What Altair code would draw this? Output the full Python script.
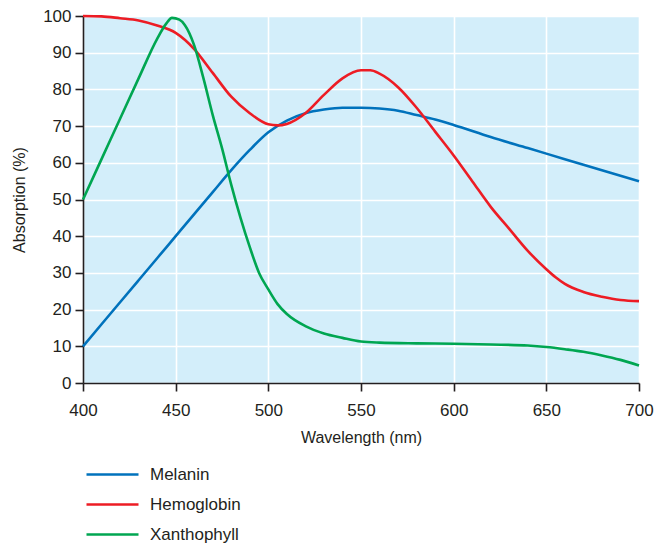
import altair as alt
import pandas as pd

# Wavelength (nm) / absorption (%)
mel_x = [400, 410, 420, 430, 440, 450, 460, 470, 480, 490, 500, 510, 520, 530, 540, 550,
         560, 570, 580, 590, 600, 620, 640, 660, 680, 700]
mel_y = [10, 16, 22, 28, 34, 40, 46, 52, 58, 63.5, 68.3, 71.5, 73.5, 74.5, 75, 75,
         74.8, 74.2, 73, 71.8, 70.3, 67, 64, 61, 58, 55]

hem_x = [400, 410, 420, 430, 440, 450, 460, 470, 480, 490, 500, 505, 510, 520, 530, 540,
         550, 555, 560, 570, 580, 590, 600, 610, 620, 630, 640, 650, 655, 660, 670, 680, 690, 700]
hem_y = [100, 99.9, 99.4, 98.8, 97.4, 95.4, 91, 84.5, 78, 73.5, 70.5, 70.2, 70.6, 73.5, 78.5, 83,
         85.2, 85.2, 84.3, 80.6, 75, 68.5, 62, 55, 48, 42, 36, 31, 28.8, 27, 24.8, 23.5, 22.6, 22.3]

xan_x = [400, 410, 420, 430, 440, 445, 448, 452, 455, 460, 465, 470, 475, 480, 485, 490,
         495, 500, 505, 510, 520, 530, 540, 550, 560, 580, 600, 620, 640, 650, 660, 670,
         680, 690, 700]
xan_y = [50, 61, 72, 83, 93.8, 98, 99.5, 99, 97.5, 92, 83, 73, 64, 54, 45, 37,
         30, 25.5, 21.5, 18.8, 15.5, 13.5, 12.3, 11.3, 11, 10.8, 10.7, 10.5, 10.2, 9.8, 9.2, 8.5,
         7.5, 6.3, 4.8]

series = ["Melanin", "Hemoglobin", "Xanthophyll"]
colors = ["#0072bc", "#ed1c24", "#00a651"]
x_ticks = [400, 450, 500, 550, 600, 650, 700]
y_ticks = [0, 10, 20, 30, 40, 50, 60, 70, 80, 90, 100]

rows = []
for name, xs, ys in [(series[0], mel_x, mel_y), (series[1], hem_x, hem_y), (series[2], xan_x, xan_y)]:
    for i, (a, b) in enumerate(zip(xs, ys)):
        rows.append({"series": name, "wl": a, "abs": b, "order": i})
df = pd.DataFrame(rows)

ink = "#231f20"
font = "Liberation Sans"

chart = alt.Chart(df).mark_line(strokeWidth=2.6, interpolate="monotone").encode(
    x=alt.X("wl:Q", scale=alt.Scale(domain=[400, 700], nice=False),
            axis=alt.Axis(values=x_ticks, title="Wavelength (nm)", titlePadding=11,
                          labelPadding=11, labelFlush=False)),
    y=alt.Y("abs:Q", scale=alt.Scale(domain=[0, 100], nice=False),
            axis=alt.Axis(values=y_ticks, title="Absorption (%)", titlePadding=15, labelPadding=4)),
    color=alt.Color("series:N", sort=series,
                    scale=alt.Scale(domain=series, range=colors),
                    legend=alt.Legend(title=None, orient="none", legendX=4, legendY=450,
                                      symbolType="M-26,0H26", symbolSize=4,
                                      symbolStrokeWidth=2.6, labelOffset=29,
                                      labelFontSize=17, labelColor=ink, rowPadding=12,
                                      padding=0, symbolOffset=17)),
    detail="series:N",
    order="order:Q",
).properties(
    width=556, height=367,
    autosize=alt.AutoSizeParams(type="none"),
    padding={"left": 75, "top": 8, "right": 15, "bottom": 160},
).configure_view(
    fill="#d3eefa", stroke=None
).configure_axis(
    domainColor=ink, domainWidth=1.6, tickColor=ink, tickWidth=1.6, tickSize=8,
    labelFont=font, labelFontSize=17, labelColor=ink,
    titleFont=font, titleFontSize=16, titleFontWeight="normal", titleColor=ink,
    gridColor="white", gridWidth=1.6, gridOpacity=1
).configure_legend(
    labelFont=font
)

chart.save("out.html", embed_options={"renderer": "svg", "actions": False})
